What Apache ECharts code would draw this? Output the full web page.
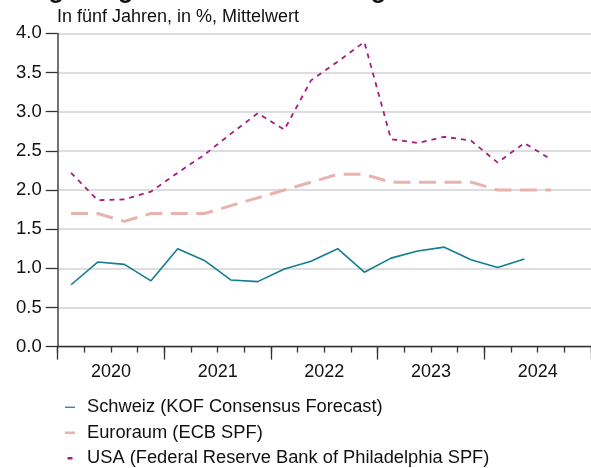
<!DOCTYPE html>
<html>
<head>
<meta charset="utf-8">
<script src="https://cdn.jsdelivr.net/npm/echarts@6/dist/echarts.min.js"></script>
<style>
  html, body { margin: 0; padding: 0; background: #fff; }
  #chart { width: 591px; height: 468px; }
</style>
</head>
<body>
<div id="chart"></div>
<script>
// Quarterly survey rounds, 2020 Q1 – 2024 Q4
const quarters = [
  '2020Q1','2020Q2','2020Q3','2020Q4',
  '2021Q1','2021Q2','2021Q3','2021Q4',
  '2022Q1','2022Q2','2022Q3','2022Q4',
  '2023Q1','2023Q2','2023Q3','2023Q4',
  '2024Q1','2024Q2','2024Q3','2024Q4'
];
const years = ['2020', '2021', '2022', '2023', '2024'];
const yTicks = [0, 0.5, 1, 1.5, 2, 2.5, 3, 3.5, 4];

// Five-year-ahead inflation expectations, mean, in %
const schweiz = [0.79, 1.08, 1.05, 0.84, 1.25, 1.10, 0.85, 0.83, 0.99, 1.09,
                 1.25, 0.95, 1.13, 1.22, 1.27, 1.11, 1.01, 1.12];
const euroraum = [1.7, 1.7, 1.6, 1.7, 1.7, 1.7, 1.8, 1.9, 2.0, 2.1,
                  2.2, 2.2, 2.1, 2.1, 2.1, 2.1, 2.0, 2.0, 2.0];
const usa = [2.22, 1.87, 1.88, 1.98, 2.22, 2.45, 2.72, 2.98, 2.77, 3.40,
             3.64, 3.89, 2.65, 2.60, 2.68, 2.63, 2.35, 2.60, 2.39];

const names = [
  'Schweiz (KOF Consensus Forecast)',
  'Euroraum (ECB SPF)',
  'USA (Federal Reserve Bank of Philadelphia SPF)'
];
const colors = ['#137d93', '#e8b3ae', '#a61d7e'];

const FONT = '"Liberation Sans", Arial, Helvetica, sans-serif';
const chart = echarts.init(document.getElementById('chart'), null, { renderer: 'canvas' });

chart.setOption({
  animation: false,
  backgroundColor: '#ffffff',
  textStyle: { fontFamily: FONT },
  graphic: [
    {
      type: 'text', left: 4, top: -21,
      style: { text: 'Langfristige Inflationserwartungen', font: 'bold 25px ' + FONT, fill: '#111' }
    },
    {
      type: 'text', left: 57, top: 8,
      style: { text: 'In fünf Jahren, in %, Mittelwert', font: '18px ' + FONT, fill: '#111' }
    }
  ],
  grid: { left: 57.7, right: 0, top: 33.4, bottom: 121.4, containLabel: false },
  legend: {
    orient: 'vertical',
    left: 60, top: 393, height: 120, width: 530,
    itemWidth: 10, itemHeight: 2.5,
    itemGap: 7,
    textStyle: { fontFamily: FONT, fontSize: 18.3, lineHeight: 18.5, color: '#111', padding: [0, 0, 0, 7] },
    data: [
      { name: names[0], icon: 'path://M0,0h8v1h-8z', symbolKeepAspect: true, itemStyle: { color: colors[0] } },
      { name: names[1], icon: 'path://M0,0h4v1h-4z', symbolKeepAspect: true, itemStyle: { color: colors[1] } },
      { name: names[2], icon: 'path://M0,0h2v1h-2z', symbolKeepAspect: true, itemStyle: { color: colors[2] } }
    ]
  },
  xAxis: [
    {
      type: 'category', data: quarters, boundaryGap: true,
      axisLine: { show: true, lineStyle: { color: '#333', width: 1.3 } },
      axisTick: { show: true, interval: 0, length: 6, lineStyle: { color: '#333', width: 1.3 } },
      axisLabel: { show: false },
      splitLine: { show: false }
    },
    {
      type: 'category', data: years, boundaryGap: true, position: 'bottom',
      axisLine: { show: false },
      axisTick: { show: true, interval: 0, length: 13, lineStyle: { color: '#333', width: 1.3 } },
      axisLabel: { show: true, interval: 0, fontSize: 18, color: '#111', margin: 16, fontFamily: FONT },
      splitLine: { show: false }
    }
  ],
  yAxis: {
    type: 'value', min: yTicks[0], max: yTicks[yTicks.length - 1], interval: 0.5,
    axisLine: { show: true, lineStyle: { color: '#444', width: 1.5 } },
    axisTick: { show: true, length: 12, lineStyle: { color: '#333', width: 1.3 } },
    axisLabel: { fontSize: 18.5, color: '#111', margin: 16, fontFamily: FONT,
                 formatter: v => v.toFixed(1) },
    splitLine: { show: true, lineStyle: { color: '#d2d2d2', width: 1.5 } }
  },
  series: [
    {
      name: names[0], type: 'line', xAxisIndex: 0, data: schweiz,
      symbol: 'none',
      lineStyle: { color: colors[0], width: 1.6 },
      itemStyle: { color: colors[0] }, z: 4
    },
    {
      name: names[1], type: 'line', xAxisIndex: 0, data: euroraum,
      symbol: 'none',
      lineStyle: { color: colors[1], width: 3, type: [17, 8.5] },
      itemStyle: { color: colors[1] }, z: 3
    },
    {
      name: names[2], type: 'line', xAxisIndex: 0, data: usa,
      symbol: 'none',
      lineStyle: { color: colors[2], width: 1.8, type: [5, 5] },
      itemStyle: { color: colors[2] }, z: 5
    }
  ]
});
</script>
</body>
</html>
